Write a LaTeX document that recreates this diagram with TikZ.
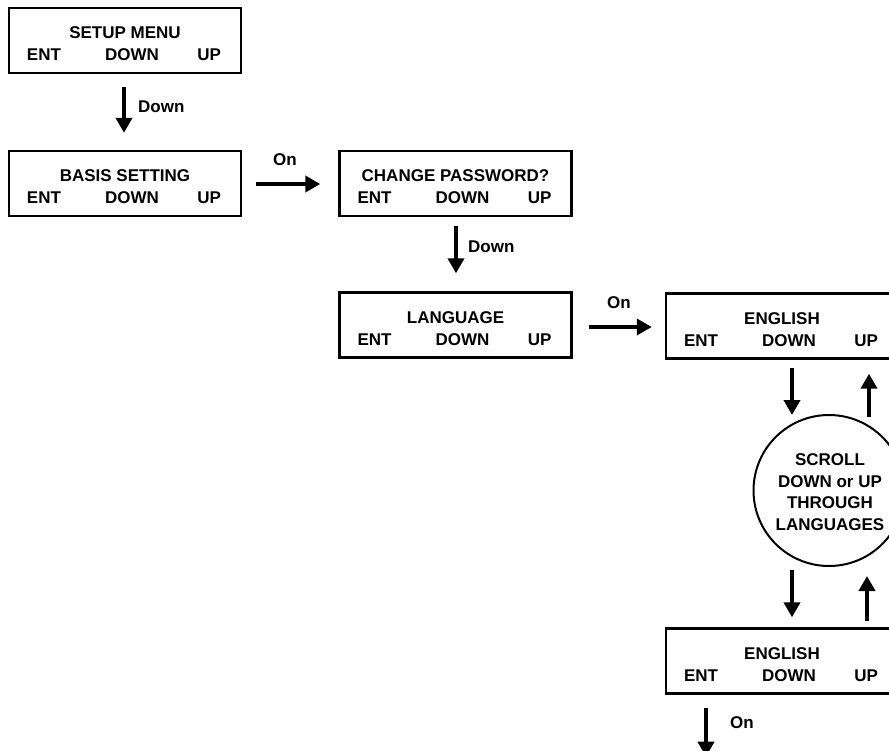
\documentclass[tikz,border=0pt]{standalone}
\usepackage{fontspec}
\setmainfont{Liberation Sans}
\usetikzlibrary{arrows.meta,calc}
\tikzset{
  dbox/.style={draw, line width=2.4pt, minimum width=232pt, minimum height=65pt, inner sep=0pt},
  txt/.style={inner sep=0pt, font=\fontsize{17}{21}\selectfont\bfseries},
  arr/.style={line width=4.6pt, -{Triangle[length=15pt,width=16pt]}},
  scrollc/.style={draw, circle, line width=2pt, minimum size=151pt, inner sep=0pt}
}
\newcommand\dispbox[3]{%
  \node[dbox] (#1) at (#2) {};
  \node[txt,anchor=base] (#1-t) at ($(#1.north)+(0,32)$) {#3};
  \node[txt,anchor=base west] (#1-e) at ($(#1.north west)+(19,54)$) {ENT};
  \node[txt,anchor=base] (#1-d) at ($(#1.north)+(7,54)$) {DOWN};
  \node[txt,anchor=base east] (#1-u) at ($(#1.north east)+(-21,54)$) {UP};
}
\begin{document}
\begin{tikzpicture}[x=1pt,y=-1pt]
\useasboundingbox (0,0) rectangle (889,750);
\clip (0,0) rectangle (889,750);
\dispbox{b1}{125,40.5}{SETUP MENU}
\dispbox{b2}{125,183.5}{BASIS SETTING}
\dispbox{b3}{455.5,183.5}{CHANGE PASSWORD?}
\dispbox{b4}{455.5,325}{LANGUAGE}
\dispbox{b5}{782,326}{ENGLISH}
\dispbox{b6}{782,661}{ENGLISH}
\node[scrollc] (c) at (829,490.5) {};
\node[txt,anchor=base] (c1) at ($(c.center)+(1,-25.5)$) {SCROLL};
\node[txt,anchor=base] (c2) at ($(c.center)+(1,-3.5)$) {DOWN or UP};
\node[txt,anchor=base] (c3) at ($(c.center)+(1,17.5)$) {THROUGH};
\node[txt,anchor=base] (c4) at ($(c.center)+(1,39.5)$) {LANGUAGES};
% connectors
\draw[arr] ($(b1.south)+(-1,13)$) -- ($(b2.north)+(-1,-17)$);
\draw[arr] ($(b2.east)+(14,0.5)$) -- ($(b3.west)+(-18,0.5)$);
\draw[arr] ($(b3.south)+(0.5,9)$) -- ($(b4.north)+(0.5,-18)$);
\draw[arr] ($(b4.east)+(16,2)$) -- ($(b5.west)+(-13,1)$);
\draw[arr] ($(b5.south)+(10,8)$) -- ($(c.north)+(-37,1)$);
\draw[arr] ($(c.north)+(40,3)$) -- ($(b5.south)+(87,14)$);
\draw[arr] ($(c.south)+(-37,3)$) -- ($(b6.north)+(10,-10)$);
\draw[arr] ($(b6.north)+(85,-6)$) -- ($(c.south)+(38,9)$);
\coordinate (bend) at ($(b6.south)+(-76,62)$);
\draw[arr] ($(b6.south)+(-76,13)$) -- (bend);
% labels
\node[txt,anchor=base west] (l1) at (138,112) {Down};
\node[txt,anchor=base west] (l2) at (273,165) {On};
\node[txt,anchor=base west] (l3) at (468,252) {Down};
\node[txt,anchor=base west] (l4) at (607,308) {On};
\node[txt,anchor=base west] (l5) at (730,728) {On};
\end{tikzpicture}
\end{document}
